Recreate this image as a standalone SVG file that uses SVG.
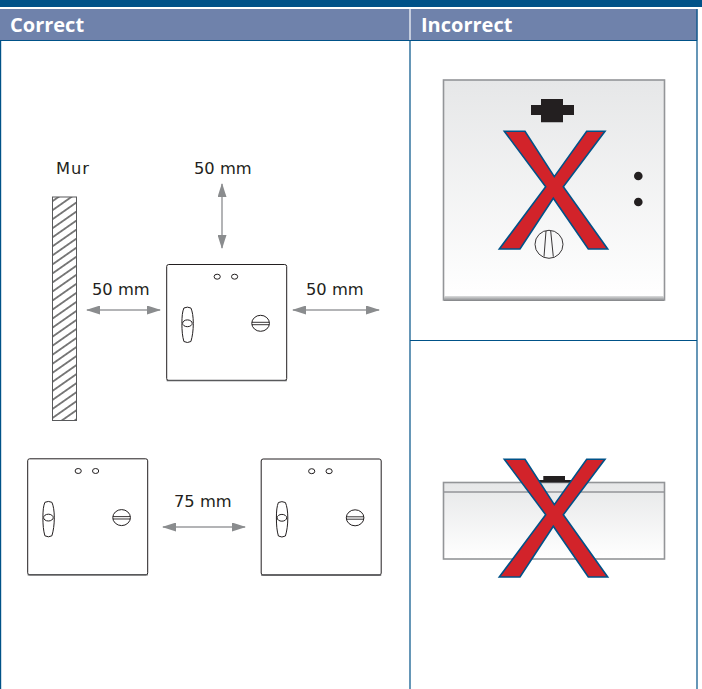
<svg xmlns="http://www.w3.org/2000/svg" width="702" height="689" viewBox="0 0 702 689">
<style>
.hd{font:700 20px "Open Sans","Noto Sans",sans-serif;fill:#fff}
.lb{font:16.300px "DejaVu Sans","Noto Sans",sans-serif;fill:#231f20}
.grid{stroke:#005288;stroke-width:1.2;fill:none}
.box{fill:#fff;stroke:#231f20;stroke-width:1}
.thin{fill:#fff;stroke:#231f20;stroke-width:1}
.dim{stroke:#b3b4b6;stroke-width:2;fill:none;marker-start:url(#a);marker-end:url(#a)}
.x{fill:#d2232a;stroke:#005288;stroke-width:1.6;stroke-linejoin:miter}
.pl{stroke:#939598;fill:url(#g);stroke-width:1.6}
</style>
<defs>
<marker id="a" viewBox="0 0 14 9" refX="13" refY="4.5" markerUnits="userSpaceOnUse" markerWidth="14" markerHeight="9" orient="auto-start-reverse"><path d="M0 0L14 4.5L0 9Z" fill="#8a8c8e"/></marker>
<pattern id="h" width="10" height="7.400" patternUnits="userSpaceOnUse" patternTransform="translate(52 197) rotate(-35)"><path d="M0 3.700H10" stroke="#000" stroke-width="1" fill="none"/></pattern>
<linearGradient id="g" x1="0" y1="0" x2="0" y2="1"><stop offset="0" stop-color="#e6e7e8"/><stop offset="1" stop-color="#fff"/></linearGradient>
<linearGradient id="b" x1="0" y1="0" x2="0" y2="1"><stop offset="0" stop-color="#dcddde"/><stop offset="1" stop-color="#808285"/></linearGradient>
<g id="sw"><rect class="box" x="0.300" y="0" width="120" height="116" rx="2"/>
<path d="M0.300 116H120.300" stroke="#58595b" stroke-width="1.400"/>
<ellipse class="thin" cx="50.800" cy="12.200" rx="3.100" ry="2.500"/><ellipse class="thin" cx="68.200" cy="12.200" rx="3.100" ry="2.500"/>
<path class="thin" d="M17.500 43.500Q21 41.800 24.500 43.500C26 47 26.900 52 26.900 59C26.900 66 26 72 24.500 77Q21 79 17.500 77C16 72 15.500 66 15.500 59C15.500 52 16 47 17.500 43.500Z"/><ellipse class="thin" cx="21" cy="58.800" rx="4.800" ry="3.400"/>
<ellipse class="thin" cx="94.200" cy="58.800" rx="8.800" ry="8"/><path d="M85.400 57.800H103M85.400 60.200H103" stroke="#231f20" stroke-width=".9" fill="none"/></g>
<path id="xm" d="M65.300 0.300H86L115.300 45.700L147.700 0.300H166L124.300 55.700L168.700 118H149.300L114.300 67.300L81 118H60.300L106.700 55.700Z"/>
</defs>
<rect width="702" height="7" fill="#005288"/>
<rect x="0" y="9" width="697.500" height="31.500" fill="#6f82ab"/>
<path d="M410 9V40" stroke="#fff" stroke-width="1.200"/>
<g id="grid"><path class="grid" d="M0.600 40.500H697M0.600 40V689M410 40V689M697 9V689M410 340.500H697"/></g>
<g id="head-correct"><text class="hd" x="10" y="32">Correct</text></g>
<g id="head-incorrect"><text class="hd" x="421" y="32">Incorrect</text></g>
<g id="wall"><rect x="52.500" y="197" width="24" height="223.500" fill="url(#h)" stroke="#58595b" stroke-width="1"/><text class="lb" x="56" y="174" letter-spacing="1">Mur</text></g>
<g id="connectors">
<path class="dim" d="M222 184V248"/>
<path class="dim" d="M87 310H160"/>
<path class="dim" d="M293 310H379"/>
<path class="dim" d="M163 527H245"/>
</g>
<g id="dim-labels"><text class="lb" x="194" y="174">50 mm</text><text class="lb" x="92" y="295">50 mm</text><text class="lb" x="306" y="295">50 mm</text><text class="lb" x="174" y="507">75 mm</text></g>
<g id="switch-top"><use href="#sw" x="166.400" y="264.500"/></g>
<g id="switch-left"><use href="#sw" x="27.400" y="458.800"/></g>
<g id="switch-right"><use href="#sw" x="260.900" y="459"/></g>
<g id="incorrect-front">
<rect class="pl" x="443.500" y="80" width="221" height="220"/>
<rect x="444" y="296" width="220" height="5" fill="url(#b)"/>
<path d="M531 105H541V99H563V105H574V115H563V122.300H541V115H531Z" fill="#231f20"/>
<circle cx="638.300" cy="176" r="4.300" fill="#231f20"/><circle cx="638.300" cy="202" r="4.300" fill="#231f20"/>
<use href="#xm" class="x" x="439" y="131"/>
<circle cx="549" cy="244.300" r="14" fill="none" stroke="#231f20" stroke-width=".9"/>
<path d="M546 231L544 256.700M550.700 231L553.300 256.700" stroke="#231f20" stroke-width=".9" fill="none"/>
</g>
<g id="incorrect-side">
<rect class="pl" x="443.500" y="482.500" width="221" height="76.500"/>
<path d="M443.500 492H664.500" stroke="#939598" stroke-width="1.600"/>
<path d="M538.300 480H543.300V476H565V480H571.700V482.500H538.300Z" fill="#231f20"/>
<use href="#xm" class="x" x="439" y="459"/>
</g>
</svg>
